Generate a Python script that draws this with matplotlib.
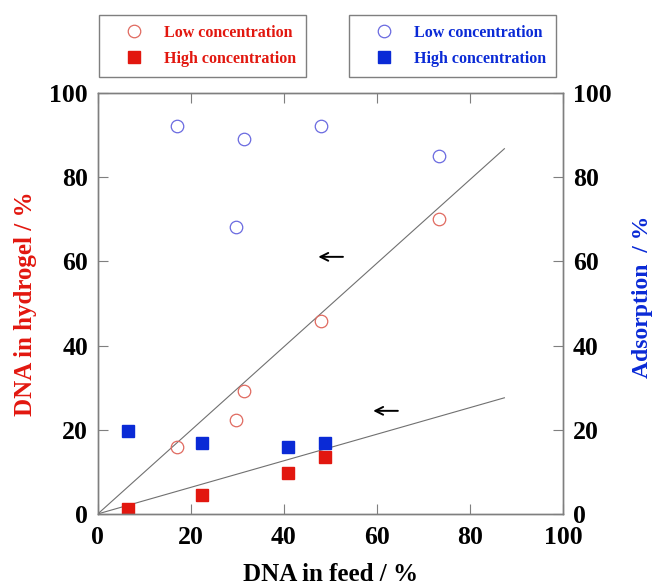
import numpy as np
import matplotlib
matplotlib.use("Agg")
import matplotlib.pyplot as plt

plt.rcParams['font.family'] = ['Liberation Serif', 'DejaVu Serif']
plt.rcParams['font.weight'] = 'bold'

# DNA in hydrogel (left axis)
feed_low = [17.0, 29.7, 31.4, 47.9, 73.4]
hydrogel_low = [15.9, 22.3, 29.1, 45.9, 70.1]
feed_high = [6.5, 22.4, 40.9, 48.9]
hydrogel_high = [1.1, 4.4, 9.8, 13.6]

# adsorption (right axis)
ads_feed_low = [17.0, 29.7, 31.5, 47.9, 73.4]
ads_low = [92.2, 68.2, 89.1, 92.2, 85.1]
ads_feed_high = [6.5, 22.4, 40.9, 48.9]
ads_high = [19.8, 16.8, 15.8, 16.8]

# guide lines through origin
line_x = [0, 87.4]
line_low = [0, 86.8]
line_high = [0, 27.6]

red = '#e2170f'
red_light = '#e06a60'
blue = '#0a2ad6'
blue_light = '#6a6ae0'
grey = '#7f7f7f'

fig = plt.figure(figsize=(6.52, 5.86), dpi=100)
ax = fig.add_axes([0.150, 0.123, 0.7135, 0.718])
ax2 = ax.twinx()

ax.plot(line_x, line_low, color='#707070', lw=0.8)
ax.plot(line_x, line_high, color='#707070', lw=0.8)

l1, = ax.plot(feed_low, hydrogel_low, 'o', ms=9, mfc='none', mec=red_light, mew=0.9, ls='none')
h1, = ax.plot(feed_high, hydrogel_high, 's', ms=9, color=red, ls='none')
l2, = ax2.plot(ads_feed_low, ads_low, 'o', ms=9, mfc='none', mec=blue_light, mew=0.9, ls='none')
h2, = ax2.plot(ads_feed_high, ads_high, 's', ms=9, color=blue, ls='none')

# arrows pointing to left axis
ax.annotate('', xy=(46.8, 61.1), xytext=(53.3, 61.1),
            arrowprops=dict(arrowstyle='->', color='black', lw=1.4, mutation_scale=14))
ax.annotate('', xy=(58.6, 24.5), xytext=(65.1, 24.5),
            arrowprops=dict(arrowstyle='->', color='black', lw=1.4, mutation_scale=14))

for a in (ax, ax2):
    a.set_xlim(0, 100)
    a.set_ylim(0, 100)
    for s in a.spines.values():
        s.set_color(grey)
        s.set_linewidth(1.0)
ax.set_xticks(np.arange(0, 101, 20))
ax.set_yticks(np.arange(0, 101, 20))
ax2.set_yticks(np.arange(0, 101, 20))
ax.tick_params(direction='in', length=7, color=grey, labelsize=18.5, top=True, pad=7)
ax.tick_params(axis='x', pad=9)
ax2.tick_params(direction='in', length=7, color=grey, labelsize=18.5, pad=7)

ax.set_xlabel('DNA in feed / %', fontsize=18, fontweight='bold', labelpad=10)
ax.set_ylabel('DNA in hydrogel / %', fontsize=18, fontweight='bold', color=red, labelpad=9)
ax2.set_ylabel('Adsorption  / %', fontsize=17, fontweight='bold', color=blue)
ax2.yaxis.set_label_coords(1.148, 0.515)

leg_kw = dict(loc='upper left', fontsize=11.5, fancybox=False, edgecolor=grey,
              framealpha=1, handlelength=3.05, handletextpad=0.35,
              borderpad=0.65, labelspacing=0.6, borderaxespad=0)

leg1 = fig.legend([l1, h1], ['Low concentration', 'High concentration'],
                  bbox_to_anchor=(0.152, 0.975), **leg_kw)
for t in leg1.get_texts():
    t.set_color(red)
leg1.get_frame().set_linewidth(1.0)

leg2 = fig.legend([l2, h2], ['Low concentration', 'High concentration'],
                  bbox_to_anchor=(0.535, 0.975), **leg_kw)
for t in leg2.get_texts():
    t.set_color(blue)
leg2.get_frame().set_linewidth(1.0)

fig.savefig('out.png', dpi=100)
